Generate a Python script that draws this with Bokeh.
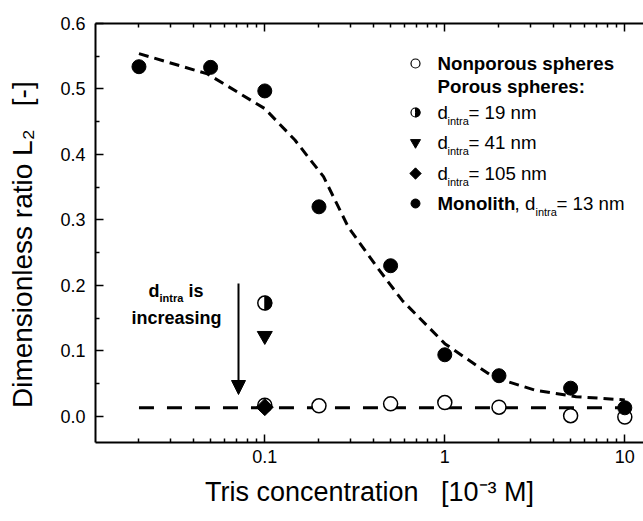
import math
from bokeh.plotting import figure
from bokeh.models import (LogAxis, Range1d, Label, Arrow, NormalHead, FixedTicker,
                          NumeralTickFormatter, CustomJSTickFormatter)
from bokeh.embed import file_html
from bokeh.resources import INLINE

# ---------------- data ----------------
tris_mono = [0.02, 0.05, 0.1, 0.2, 0.5, 1, 2, 5, 10]
L2_mono = [0.534, 0.533, 0.497, 0.320, 0.230, 0.094, 0.062, 0.043, 0.013]

tris_nonporous = [0.1, 0.2, 0.5, 1, 2, 5, 10]
L2_nonporous = [0.017, 0.016, 0.019, 0.021, 0.014, 0.001, -0.001]

tris_porous = [0.1]
L2_d19 = [0.173]
L2_d41 = [0.123]
L2_d105 = [0.014]

fit_mono_x = [0.02, 0.048, 0.1, 0.147, 0.212, 0.291, 0.42, 0.58, 1.0, 1.86, 3.16, 5.37, 10]
fit_mono_y = [0.554, 0.523, 0.470, 0.422, 0.366, 0.289, 0.228, 0.177, 0.111, 0.060, 0.040, 0.030, 0.025]

fit_flat_x = [0.02, 10]
fit_flat_y = [0.013, 0.013]

x_major = [0.1, 1, 10]
x_minor = [0.02, 0.03, 0.04, 0.05, 0.06, 0.07, 0.08, 0.09,
           0.2, 0.3, 0.4, 0.5, 0.6, 0.7, 0.8, 0.9,
           2, 3, 4, 5, 6, 7, 8, 9]
y_major = [0.0, 0.1, 0.2, 0.3, 0.4, 0.5, 0.6]
y_minor = [-0.05, 0.05, 0.15, 0.25, 0.35, 0.45, 0.55]

NB = "\u00a0"
y_title = "Dimensionless ratio L\u2082" + NB * 3 + "[-]" + NB * 3
x_title = "Tris concentration" + NB * 3 + "[10\u207b\u00b3 M]"

# ---------------- layout ----------------
W, H = 643, 521
FL, FR, FT, FB = 95, 643, 23, 442
x0, x1 = 0.01147, 12.7
y0, y1 = -0.04, 0.6
FONT = "Liberation Sans"


def X(px):
    return 10 ** (math.log10(x0) + (px - FL) / (FR - FL) * (math.log10(x1) - math.log10(x0)))


def Y(py):
    return y0 + (FB - py) / (FB - FT) * (y1 - y0)


p = figure(width=W, height=H, x_axis_type="log",
           x_range=Range1d(x0, x1), y_range=Range1d(y0, y1),
           output_backend="svg", toolbar_location=None,
           min_border_left=FL, min_border_right=W - FR,
           min_border_top=FT, min_border_bottom=H - FB)
p.grid.visible = False
p.outline_line_color = None
p.background_fill_color = "white"
p.border_fill_color = "white"

xt = FixedTicker(ticks=x_major, minor_ticks=x_minor)
yt = FixedTicker(ticks=y_major, minor_ticks=y_minor)

bottom = p.xaxis[0]
left = p.yaxis[0]
bottom.ticker = xt
bottom.formatter = CustomJSTickFormatter(code="return String(tick);")
left.ticker = yt
left.formatter = NumeralTickFormatter(format="0.0")

top = LogAxis(ticker=xt, formatter=CustomJSTickFormatter(code="return '';"))
p.add_layout(top, "above")

for ax in [bottom, left, top]:
    ax.axis_line_width = 2
    ax.axis_line_color = "black"
    ax.major_tick_in = 8
    ax.major_tick_out = 0
    ax.minor_tick_in = 4
    ax.minor_tick_out = 0
    ax.major_tick_line_width = 1.5
    ax.minor_tick_line_width = 1.5
    ax.major_tick_line_color = "black"
    ax.minor_tick_line_color = "black"
    ax.major_label_text_font = FONT
    ax.major_label_text_color = "black"
bottom.major_label_text_font_size = "18px"
left.major_label_text_font_size = "18px"
bottom.major_label_standoff = 7
left.major_label_standoff = 10
top.major_label_standoff = 0

for ax in [bottom, left]:
    ax.axis_label_text_font = FONT
    ax.axis_label_text_font_style = "normal"
    ax.axis_label_text_color = "black"
left.axis_label = y_title
bottom.axis_label = x_title
left.axis_label_text_font_size = "28px"
bottom.axis_label_text_font_size = "27px"
left.axis_label_standoff = 19
bottom.axis_label_standoff = 11

# ---------------- fitted curves ----------------
p.line(fit_mono_x, fit_mono_y, line_color="black", line_width=3, line_dash="10 6")
p.line(fit_flat_x, fit_flat_y, line_color="black", line_width=3, line_dash="15 13")

# ---------------- markers ----------------
MS = 14
p.scatter(tris_nonporous, L2_nonporous, marker="circle", size=MS,
          fill_color="white", line_color="black", line_width=1.5)
p.scatter(tris_porous, L2_d105, marker="square", angle=math.pi / 4, size=12,
          fill_color="black", line_color="black")
p.scatter(tris_porous, L2_d41, marker="inverted_triangle", size=15,
          fill_color="black", line_color="black")
p.scatter(tris_porous, L2_d19, marker="circle", size=MS,
          fill_color="white", line_color="black", line_width=1.5)
p.wedge(tris_porous, L2_d19, radius=MS / 2, radius_units="screen",
        start_angle=-math.pi / 2, end_angle=math.pi / 2,
        fill_color="black", line_color="black")
p.scatter(tris_mono, L2_mono, marker="circle", size=MS,
          fill_color="black", line_color="black")

# ---------------- arrow annotation ----------------
p.add_layout(Arrow(end=NormalHead(size=14, fill_color="black", line_color="black"),
                   x_start=X(238), y_start=Y(283), x_end=X(238), y_end=Y(394),
                   line_width=2, line_color="black"))


def lab(px, py, text, size=18, bold=False, align="left", angle=0.0):
    p.add_layout(Label(x=X(px), y=Y(py), text=text, text_font=FONT,
                       text_font_size=f"{size}px",
                       text_font_style="bold" if bold else "normal",
                       text_align=align, text_baseline="middle",
                       text_color="black", angle=angle))


lab(148, 290, "d", bold=True)
lab(159, 297, "intra", size=11, bold=True)
lab(188, 290, "is", bold=True)
lab(176, 317, "increasing", bold=True, align="center")

# ---------------- legend (manual) ----------------
LX = 415
TX = 437
rows = [63, 86, 112, 142, 173, 203]
LS = 9
p.scatter([X(LX)], [Y(rows[0])], marker="circle", size=LS,
          fill_color="white", line_color="black", line_width=1.2)
p.scatter([X(LX)], [Y(rows[2])], marker="circle", size=LS,
          fill_color="white", line_color="black", line_width=1.2)
p.wedge([X(LX)], [Y(rows[2])], radius=LS / 2, radius_units="screen",
        start_angle=-math.pi / 2, end_angle=math.pi / 2,
        fill_color="black", line_color="black")
p.scatter([X(LX)], [Y(rows[3])], marker="inverted_triangle", size=10,
          fill_color="black", line_color="black")
p.scatter([X(LX)], [Y(rows[4])], marker="square", angle=math.pi / 4, size=8,
          fill_color="black", line_color="black")
p.scatter([X(LX)], [Y(rows[5])], marker="circle", size=LS,
          fill_color="black", line_color="black")

BS = 18.7
lab(TX, rows[0], "Nonporous spheres", size=BS, bold=True)
lab(TX, rows[1], "Porous spheres:", size=BS, bold=True)
for r, txt in [(rows[2], "= 19 nm"), (rows[3], "= 41 nm"), (rows[4], "= 105 nm")]:
    lab(TX, r, "d", size=BS)
    lab(TX + 10, r + 8, "intra", size=11)
    lab(TX + 31, r, txt, size=BS)
lab(TX, rows[5], "Monolith", size=BS, bold=True)
lab(TX + 77, rows[5], ", d", size=BS)
lab(TX + 98, rows[5] + 8, "intra", size=11)
lab(TX + 119, rows[5], "= 13 nm", size=BS)

open("out.html", "w").write(file_html(p, INLINE))
